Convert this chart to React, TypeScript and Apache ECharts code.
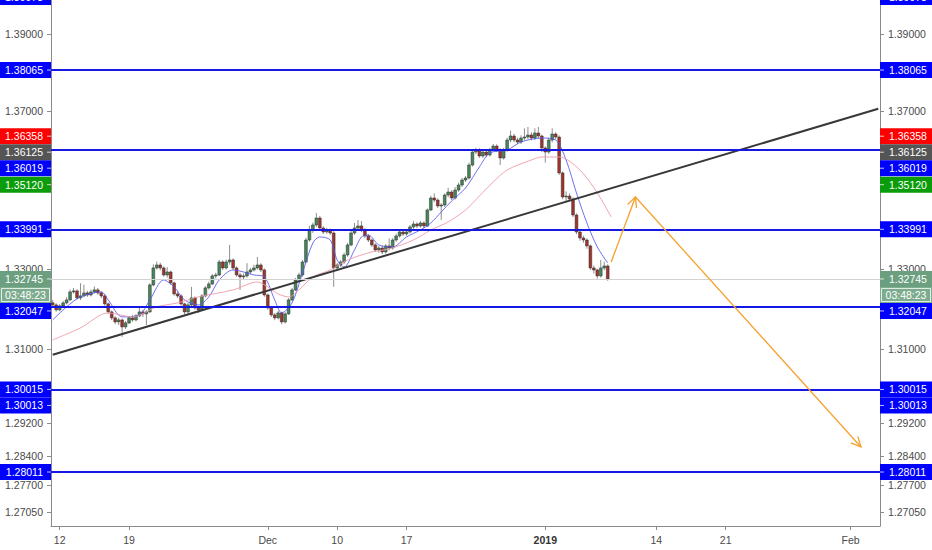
import React, { useEffect, useRef } from 'react';
import * as echarts from 'echarts';

const FONT = '"Liberation Sans", Arial, sans-serif';

// ---- axis ranges / layout constants ----
const PRICE_MIN = 1.26718;
const PRICE_MAX = 1.39896;
const N_CATS = 239;
const HOLIDAYS = ['2018-12-25', '2019-01-01'];

// ---- x tick labels (date of first bar -> text) ----
const X_TICK_DATES = ['2018-11-12', '2018-11-19', '2018-12-03', '2018-12-10', '2018-12-17', '2019-01-02', '2019-01-14', '2019-01-21', '2019-02-01'];
const X_TICK_TEXTS = ['12', '19', 'Dec', '10', '17', '2019', '14', '21', 'Feb'];

// ---- y tick labels (those not hidden behind price badges) ----
const Y_TICKS = [1.39, 1.37, 1.33, 1.31, 1.292, 1.284, 1.277, 1.2705];

// ---- candles (6h bars) ----
const FIRST_OPEN = 1.3215;
const CLOSES = [
  1.32099, 1.31975, 1.32074, 1.32149, 1.32223, 1.32422, 1.32447, 1.32273, 1.32322, 1.32397,
  1.32347, 1.32422, 1.32472, 1.32397, 1.32322, 1.32124, 1.31925, 1.31777, 1.31677, 1.31727,
  1.31553, 1.31652, 1.31777, 1.31727, 1.31826, 1.31925, 1.31876, 1.31925, 1.32596, 1.33020,
  1.33095, 1.33020, 1.32845, 1.32920, 1.32646, 1.32372, 1.32322, 1.32124, 1.31925, 1.32099,
  1.32273, 1.32025, 1.31975, 1.32322, 1.32522, 1.32621, 1.32821, 1.32845, 1.33170, 1.33020,
  1.33170, 1.33220, 1.33020, 1.32845, 1.32796, 1.32821, 1.32920, 1.32970, 1.33020, 1.33095,
  1.32970, 1.32347, 1.32025, 1.31851, 1.31777, 1.31901, 1.31677, 1.31876, 1.32223, 1.32472,
  1.32721, 1.32845, 1.33170, 1.33722, 1.33974, 1.34100, 1.34276, 1.34024, 1.33924, 1.33974,
  1.33898, 1.33020, 1.33095, 1.33170, 1.33346, 1.33597, 1.33898, 1.34024, 1.34075, 1.33974,
  1.33823, 1.33722, 1.33597, 1.33471, 1.33521, 1.33421, 1.33572, 1.33521, 1.33722, 1.33823,
  1.33924, 1.33873, 1.33924, 1.34050, 1.34125, 1.34075, 1.34150, 1.34075, 1.34478, 1.34782,
  1.34731, 1.34579, 1.34604, 1.34858, 1.34934, 1.34782, 1.34985, 1.35112, 1.35239, 1.35290,
  1.35621, 1.35953, 1.36004, 1.35851, 1.35953, 1.35877, 1.36004, 1.36106, 1.36004, 1.35800,
  1.36004, 1.36260, 1.36363, 1.36260, 1.36209, 1.36311, 1.36337, 1.36389, 1.36311, 1.36440,
  1.36363, 1.36055, 1.35953, 1.36260, 1.36414, 1.36337, 1.35418, 1.34807, 1.34832, 1.34756,
  1.34352, 1.33924, 1.33772, 1.33722, 1.33572, 1.33020, 1.32970, 1.32821, 1.33020, 1.33070,
  1.32745,
];
const HIGHS = [
  1.32220, 1.32140, 1.32120, 1.32200, 1.32290, 1.32480, 1.32520, 1.32490, 1.32640, 1.32600,
  1.32450, 1.32480, 1.32560, 1.32520, 1.32440, 1.32360, 1.32160, 1.31960, 1.31820, 1.31780,
  1.31760, 1.31700, 1.31820, 1.31850, 1.31870, 1.32050, 1.31980, 1.31970, 1.32640, 1.33110,
  1.33180, 1.33150, 1.33060, 1.33040, 1.32950, 1.32680, 1.32420, 1.32360, 1.32150, 1.32150,
  1.32547, 1.32310, 1.32080, 1.32370, 1.32570, 1.32680, 1.32870, 1.32900, 1.33220, 1.33210,
  1.33230, 1.33597, 1.33260, 1.33060, 1.32900, 1.32880, 1.33140, 1.33020, 1.33100, 1.33295,
  1.33140, 1.33010, 1.32380, 1.32060, 1.31900, 1.31950, 1.31930, 1.31920, 1.32270, 1.32520,
  1.32770, 1.32900, 1.33220, 1.33780, 1.34080, 1.34160, 1.34402, 1.34330, 1.34070, 1.34030,
  1.34010, 1.33940, 1.33140, 1.33220, 1.33400, 1.33650, 1.33980, 1.34150, 1.34226, 1.34200,
  1.34020, 1.33870, 1.33760, 1.33640, 1.33570, 1.33580, 1.33620, 1.33760, 1.33770, 1.33880,
  1.33970, 1.33980, 1.33970, 1.34100, 1.34200, 1.34170, 1.34200, 1.34190, 1.34520, 1.34840,
  1.34900, 1.34770, 1.34650, 1.34900, 1.35040, 1.34980, 1.35060, 1.35170, 1.35290, 1.35340,
  1.35680, 1.36010, 1.36060, 1.36050, 1.36000, 1.36000, 1.36060, 1.36160, 1.36150, 1.36050,
  1.36060, 1.36320, 1.36500, 1.36420, 1.36320, 1.36380, 1.36560, 1.36594, 1.36460, 1.36560,
  1.36594, 1.36400, 1.36100, 1.36320, 1.36560, 1.36460, 1.36380, 1.35460, 1.34950, 1.34900,
  1.34800, 1.34390, 1.33960, 1.33830, 1.33760, 1.33610, 1.33080, 1.33000, 1.33220, 1.33180,
  1.33110,
];
const LOWS = [
  1.32030, 1.31930, 1.31940, 1.32040, 1.32110, 1.32190, 1.32380, 1.32230, 1.32220, 1.32290,
  1.32300, 1.32310, 1.32380, 1.32350, 1.32270, 1.32080, 1.31880, 1.31720, 1.31620, 1.31600,
  1.31306, 1.31500, 1.31620, 1.31680, 1.31690, 1.31790, 1.31800, 1.31600, 1.31900, 1.32560,
  1.32980, 1.32960, 1.32800, 1.32780, 1.32600, 1.32330, 1.32270, 1.32080, 1.31870, 1.31880,
  1.32050, 1.31980, 1.31900, 1.31950, 1.32290, 1.32480, 1.32590, 1.32760, 1.32820, 1.32970,
  1.32980, 1.33100, 1.32970, 1.32800, 1.32470, 1.32740, 1.32780, 1.32870, 1.32930, 1.32980,
  1.32920, 1.32300, 1.31980, 1.31800, 1.31720, 1.31740, 1.31620, 1.31640, 1.31850, 1.32190,
  1.32440, 1.32680, 1.32800, 1.33140, 1.33680, 1.33900, 1.34050, 1.33980, 1.33870, 1.33880,
  1.33850, 1.32547, 1.32950, 1.33040, 1.33120, 1.33300, 1.33560, 1.33850, 1.33980, 1.33920,
  1.33770, 1.33670, 1.33550, 1.33420, 1.33400, 1.33370, 1.33380, 1.33460, 1.33480, 1.33680,
  1.33780, 1.33820, 1.33830, 1.33880, 1.34000, 1.34020, 1.34030, 1.34020, 1.34050, 1.34450,
  1.34680, 1.34530, 1.34226, 1.34560, 1.34800, 1.34730, 1.34740, 1.34940, 1.35060, 1.35190,
  1.35250, 1.35580, 1.35900, 1.35800, 1.35800, 1.35820, 1.35840, 1.35960, 1.35950, 1.35620,
  1.35760, 1.35960, 1.36200, 1.36200, 1.36150, 1.36160, 1.36250, 1.36280, 1.36250, 1.36260,
  1.36300, 1.35950, 1.35680, 1.35900, 1.36200, 1.36280, 1.35370, 1.34750, 1.34700, 1.34700,
  1.34300, 1.33870, 1.33700, 1.33650, 1.33500, 1.32970, 1.32880, 1.32750, 1.32780, 1.32960,
  1.32700,
];

// ---- moving averages: [bar index, price] ----
const FAST_MA: [number, number][] = [
  [0, 1.31727], [4, 1.3205], [8, 1.32298], [14, 1.32422], [16, 1.32223], [20, 1.31801], [25, 1.31851],
  [28, 1.32223], [32, 1.32721], [35, 1.32547], [38, 1.32223], [42, 1.32099], [45, 1.32298], [48, 1.32721],
  [52, 1.3297], [58, 1.32845], [61, 1.32796], [64, 1.32223], [66, 1.31901], [69, 1.32149], [72, 1.32895],
  [75, 1.33647], [77, 1.33798], [80, 1.33722], [82, 1.3322], [84, 1.33045], [87, 1.33471], [89, 1.33798],
  [91, 1.33848], [94, 1.33597], [98, 1.33546], [102, 1.33798], [106, 1.33974], [109, 1.3415], [112, 1.34428],
  [115, 1.34706], [119, 1.35036], [123, 1.3557], [126, 1.35928], [131, 1.36004], [135, 1.36209], [141, 1.36311],
  [145, 1.3626], [148, 1.35749], [151, 1.34909], [154, 1.3415], [157, 1.33546], [160, 1.33145],
];
const SLOW_MA: [number, number][] = [
  [0, 1.31232], [8, 1.31529], [16, 1.31901], [23, 1.31801], [30, 1.3205], [36, 1.32149], [42, 1.32298],
  [52, 1.32472], [59, 1.32671], [62, 1.32547], [65, 1.32372], [68, 1.32298], [71, 1.32472], [75, 1.32796],
  [80, 1.3297], [85, 1.3322], [92, 1.33421], [97, 1.33496], [104, 1.33722], [109, 1.33974], [114, 1.34176],
  [119, 1.34478], [123, 1.34833], [127, 1.35188], [131, 1.35494], [138, 1.35749], [141, 1.35826], [146, 1.35826],
  [152, 1.35494], [157, 1.34909], [161, 1.34302],
];

// ---- drawings ----
const TREND: [number, number][] = [[0, 1.30867], [238, 1.37065]];
const FORECAST: [number, number][] = [[161, 1.3317], [168, 1.34807], [233, 1.28616]];
const LEVELS = [1.38065, 1.36019, 1.33991, 1.32047, 1.30015, 1.30013, 1.28011];
const LAST_PRICE = 1.32745;
const COUNTDOWN = '03:48:23';

const BLUE = '#0000ff';
const BADGE_VALUES = [1.39973, 1.38065, 1.36358, 1.36125, 1.36019, 1.3512, 1.33991, 1.32047, 1.30015, 1.30013, 1.28011];
const BADGE_COLORS = [BLUE, BLUE, '#ff0000', '#555555', BLUE, '#0a9c0a', BLUE, BLUE, BLUE, BLUE, BLUE];

const UP = '#46875b';
const DOWN = '#a2342a';
const ORANGE = '#f5a12e';
const LINE_BLUE = '#1717e4';

function buildCategories(): string[] {
  const cats = ['2018-11-09 12', '2018-11-09 18'];
  const d = new Date(Date.UTC(2018, 10, 12));
  while (cats.length < N_CATS) {
    const key = d.toISOString().slice(0, 10);
    const dow = d.getUTCDay();
    if (dow !== 0 && dow !== 6 && !HOLIDAYS.includes(key)) {
      for (const h of ['00', '06', '12', '18']) cats.push(`${key} ${h}`);
    }
    d.setUTCDate(d.getUTCDate() + 1);
  }
  return cats.slice(0, N_CATS);
}

export default function App() {
  const ref = useRef<HTMLDivElement>(null);

  useEffect(() => {
    if (!ref.current) return;
    const chart = echarts.init(ref.current, undefined, { renderer: 'svg' });
    const cats = buildCategories();
    const tickMap: Record<string, string> = {};
    X_TICK_DATES.forEach((d, k) => { tickMap[`${d} 00`] = X_TICK_TEXTS[k]; });
    const isTick = (_i: number, v: string) => tickMap[v] !== undefined;

    const ln = (v: number) => Math.log(v);
    const candleData = CLOSES.map((c, i) => [
      i,
      ln(i === 0 ? FIRST_OPEN : CLOSES[i - 1]),
      ln(c),
      ln(LOWS[i]),
      ln(HIGHS[i]),
    ]);
    const yTickVals = Y_TICKS.map(ln);

    const yAxis = (pos: 'left' | 'right') => ({
      type: 'value',
      position: pos,
      min: ln(PRICE_MIN),
      max: ln(PRICE_MAX),
      splitLine: { show: false },
      axisLine: { show: true, onZero: false, lineStyle: { color: '#8a8a8a', width: 1 } },
      axisTick: { show: true, length: 4, customValues: yTickVals, lineStyle: { color: '#8a8a8a' } },
      axisLabel: {
        customValues: yTickVals,
        formatter: (v: number) => Math.exp(v).toFixed(5),
        color: '#4a4a4a',
        fontSize: 10.5,
        fontFamily: FONT,
        margin: 8,
        hideOverlap: false,
      },
    });

    const option: any = {
      animation: false,
      backgroundColor: '#ffffff',
      textStyle: { fontFamily: FONT },
      grid: { left: 51, right: 52, top: 0, bottom: 24, containLabel: false, outerBoundsMode: 'none' },
      xAxis: {
        type: 'category',
        data: cats,
        boundaryGap: true,
        axisLine: { onZero: false, lineStyle: { color: '#8a8a8a' } },
        axisTick: { show: true, alignWithLabel: true, interval: isTick, length: 4, lineStyle: { color: '#8a8a8a' } },
        axisLabel: {
          interval: isTick,
          formatter: (v: string) => (tickMap[v] === '2019' ? '{b|2019}' : tickMap[v] || ''),
          color: '#4a4a4a',
          fontSize: 10.5,
          fontFamily: FONT,
          margin: 8,
          rich: { b: { fontWeight: 'bold', color: '#333', fontSize: 10.5, fontFamily: FONT } },
        },
        splitLine: { show: false },
      },
      yAxis: [yAxis('left'), yAxis('right')],
      series: [
        {
          type: 'custom',
          name: 'candles',
          z: 2,
          clip: true,
          silent: true,
          dimensions: ['i', 'o', 'c', 'l', 'h'],
          encode: { x: 0, y: [1, 2, 3, 4] },
          data: candleData,
          renderItem: (_p: any, api: any) => {
            const i = api.value(0);
            const o = api.value(1);
            const c = api.value(2);
            const pO = api.coord([i, o]);
            const pC = api.coord([i, c]);
            const pL = api.coord([i, api.value(3)]);
            const pH = api.coord([i, api.value(4)]);
            const w = api.size([1, 0])[0] * 0.8;
            const x = pO[0];
            const top = Math.min(pO[1], pC[1]);
            const bh = Math.max(Math.abs(pO[1] - pC[1]), 1);
            return {
              type: 'group',
              children: [
                { type: 'line', shape: { x1: x, y1: pH[1], x2: x, y2: pL[1] }, style: { stroke: '#8e8e8e', lineWidth: 1 } },
                {
                  type: 'rect',
                  shape: { x: x - w / 2, y: top, width: w, height: bh },
                  style: { fill: c >= o ? UP : DOWN, stroke: '#2e2e2e', lineWidth: 0.5 },
                },
              ],
            };
          },
        },
        {
          type: 'line',
          name: 'fast',
          z: 3,
          silent: true,
          data: FAST_MA.map(([i, p]) => [i, ln(p)]),
          symbol: 'none',
          smooth: 0.3,
          lineStyle: { color: '#5656f2', width: 1, opacity: 0.85 },
        },
        {
          type: 'line',
          name: 'slow',
          z: 3,
          silent: true,
          data: SLOW_MA.map(([i, p]) => [i, ln(p)]),
          symbol: 'none',
          smooth: 0.3,
          lineStyle: { color: '#f09aa8', width: 1, opacity: 0.9 },
        },
        {
          type: 'line',
          name: 'trend',
          z: 4,
          silent: true,
          data: TREND.map(([i, p]) => [i, ln(p)]),
          symbol: 'none',
          lineStyle: { color: '#383838', width: 2 },
          markLine: {
            silent: true,
            precision: 10,
            symbol: ['none', 'none'],
            label: { show: false },
            data: [
              { yAxis: ln(LAST_PRICE), lineStyle: { color: '#d2d2d2', width: 1, type: 'solid' } },
              ...LEVELS.map((v) => ({ yAxis: ln(v), lineStyle: { color: LINE_BLUE, width: 2, type: 'solid' } })),
            ],
          },
        },
        {
          type: 'custom',
          name: 'forecast',
          z: 5,
          silent: true,
          dimensions: ['x1', 'y1', 'x2', 'y2'],
          encode: { x: [0, 2], y: [1, 3] },
          data: FORECAST.slice(0, -1).map(([i, p], k) => [i, ln(p), FORECAST[k + 1][0], ln(FORECAST[k + 1][1])]),
          renderItem: (_p: any, api: any) => {
            const p1 = api.coord([api.value(0), api.value(1)]);
            const p2 = api.coord([api.value(2), api.value(3)]);
            const ang = Math.atan2(p2[1] - p1[1], p2[0] - p1[0]);
            const L = 11;
            const a = Math.PI / 7;
            const h1 = [p2[0] - L * Math.cos(ang - a), p2[1] - L * Math.sin(ang - a)];
            const h2 = [p2[0] - L * Math.cos(ang + a), p2[1] - L * Math.sin(ang + a)];
            return {
              type: 'group',
              children: [
                { type: 'line', shape: { x1: p1[0], y1: p1[1], x2: p2[0], y2: p2[1] }, style: { stroke: ORANGE, lineWidth: 1.3 } },
                { type: 'polyline', shape: { points: [h1, p2, h2] }, style: { stroke: ORANGE, fill: 'none', lineWidth: 1.3 } },
              ],
            };
          },
        },
      ],
    };
    chart.setOption(option);

    // ---- price badges on both scales, positioned through the axis, stacked to avoid overlap ----
    const toY = (v: number) => chart.convertToPixel({ yAxisIndex: 0 }, ln(v)) as number;
    type Badge = { text: string; color: string; y: number; kind: string };
    const badges: Badge[] = BADGE_VALUES.map((v, k) => ({ text: v.toFixed(5), color: BADGE_COLORS[k], y: toY(v), kind: 'level' }));
    badges.push({ text: LAST_PRICE.toFixed(5), color: '#6b9f7f', y: toY(LAST_PRICE), kind: 'last' });
    badges.push({ text: COUNTDOWN, color: '#7dab8e', y: toY(LAST_PRICE) + 0.01, kind: 'timer' });
    badges.sort((a, b) => a.y - b.y);
    const H = 16;
    let prev = -Infinity;
    badges.forEach((b) => {
      b.y = Math.max(b.y, prev + H);
      prev = b.y;
    });

    const W = 932;
    const leftEdge = 51;
    const rightEdge = 880;
    const elements: any[] = [];
    badges.forEach((b) => {
      const sides = [
        { x0: 0, w: leftEdge, tx: 43, align: 'right', t1: leftEdge - 4, t2: leftEdge },
        { x0: rightEdge, w: W - rightEdge, tx: 889, align: 'left', t1: rightEdge, t2: rightEdge + 4 },
      ];
      sides.forEach((s) => {
        elements.push({
          type: 'rect',
          z: 100,
          silent: true,
          shape: { x: s.x0, y: b.y - H / 2, width: s.w, height: H },
          style: { fill: b.color },
        });
        if (b.kind === 'timer') {
          elements.push({
            type: 'rect',
            z: 101,
            silent: true,
            shape: { x: s.x0 + 1.5, y: b.y - H / 2 + 1.5, width: s.w - 3, height: H - 3 },
            style: { fill: 'none', stroke: '#e4efe7', lineWidth: 1 },
          });
        } else {
          elements.push({
            type: 'line',
            z: 101,
            silent: true,
            shape: { x1: s.t1, y1: b.y, x2: s.t2, y2: b.y },
            style: { stroke: 'rgba(255,255,255,0.75)', lineWidth: 1 },
          });
        }
        elements.push({
          type: 'text',
          z: 102,
          silent: true,
          x: b.kind === 'timer' ? s.x0 + s.w / 2 : s.tx,
          y: b.y,
          style: {
            text: b.text,
            fill: '#ffffff',
            font: `10.5px ${FONT}`,
            align: b.kind === 'timer' ? 'center' : s.align,
            textAlign: b.kind === 'timer' ? 'center' : s.align,
            verticalAlign: 'middle',
            textVerticalAlign: 'middle',
          },
        });
      });
    });
    chart.setOption({ graphic: { elements } });

    return () => chart.dispose();
  }, []);

  return (
    <div
      ref={ref}
      style={{ position: 'fixed', left: 0, top: 0, width: 932, height: 550, background: '#ffffff' }}
    />
  );
}
